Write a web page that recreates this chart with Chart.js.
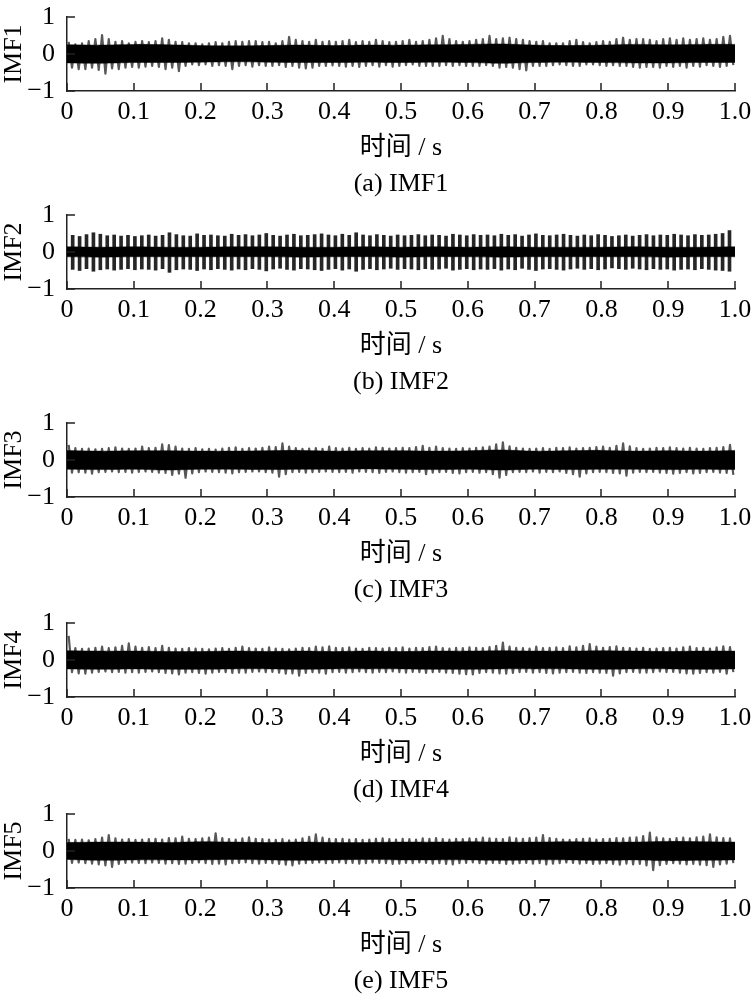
<!DOCTYPE html>
<html><head><meta charset="utf-8">
<script src="https://cdn.jsdelivr.net/npm/chart.js@4.4.1/dist/chart.umd.min.js"></script>
<style>
html,body{margin:0;padding:0;background:#fff}
#fig{position:relative;width:752px;height:1000px;overflow:hidden;background:#fff}
#fig canvas{position:absolute;left:0}
.cap{position:absolute;left:67px;width:668px;height:30px;text-align:center;font:26px/30px "Liberation Serif","Noto Sans CJK SC",serif;color:#000;white-space:nowrap}
</style></head><body><div id="fig"></div>
<script>
// ---------- data ----------
const TIME_TICKS = [0,0.1,0.2,0.3,0.4,0.5,0.6,0.7,0.8,0.9,1.0];
const TIME_TICK_LABELS = ['0','0.1','0.2','0.3','0.4','0.5','0.6','0.7','0.8','0.9','1.0'];
const AMP_TICKS = [-1,0,1];
const AMP_TICK_LABELS = ['\u22121','0','1'];
const X_TITLE = '时间 / s';
const PANEL_NAMES = ['IMF1','IMF2','IMF3','IMF4','IMF5'];
const CAPTIONS = ['(a) IMF1','(b) IMF2','(c) IMF3','(d) IMF4','(e) IMF5'];

// envelope of each 0.01 s bin (upper / lower peaks)
const IMF1_MAX = [0.33,0.26,0.29,0.35,0.40,0.51,0.40,0.33,0.35,0.29,
0.33,0.35,0.32,0.35,0.42,0.38,0.33,0.32,0.29,0.29,
0.26,0.29,0.32,0.29,0.33,0.35,0.33,0.35,0.35,0.32,
0.33,0.29,0.35,0.46,0.38,0.35,0.33,0.38,0.33,0.35,
0.33,0.35,0.38,0.32,0.35,0.33,0.38,0.35,0.32,0.33,
0.35,0.38,0.33,0.35,0.38,0.42,0.49,0.40,0.35,0.33,
0.35,0.38,0.40,0.49,0.40,0.42,0.44,0.40,0.38,0.35,
0.33,0.35,0.29,0.29,0.29,0.35,0.38,0.32,0.29,0.32,
0.35,0.33,0.40,0.44,0.38,0.40,0.40,0.38,0.35,0.40,
0.42,0.38,0.42,0.38,0.40,0.42,0.38,0.40,0.46,0.49];
const IMF1_MIN = [-0.37,-0.41,-0.41,-0.37,-0.43,-0.53,-0.39,-0.41,-0.37,-0.35,
-0.37,-0.34,-0.32,-0.35,-0.41,-0.37,-0.46,-0.32,-0.28,-0.30,
-0.28,-0.32,-0.30,-0.32,-0.41,-0.32,-0.30,-0.34,-0.30,-0.32,
-0.32,-0.30,-0.35,-0.32,-0.37,-0.39,-0.37,-0.32,-0.32,-0.31,
-0.32,-0.34,-0.32,-0.35,-0.32,-0.30,-0.34,-0.30,-0.34,-0.32,
-0.30,-0.28,-0.32,-0.32,-0.32,-0.32,-0.30,-0.32,-0.30,-0.32,
-0.32,-0.32,-0.30,-0.32,-0.37,-0.35,-0.37,-0.41,-0.44,-0.32,
-0.32,-0.32,-0.30,-0.28,-0.30,-0.32,-0.32,-0.28,-0.28,-0.30,
-0.32,-0.30,-0.32,-0.32,-0.35,-0.37,-0.35,-0.35,-0.37,-0.32,
-0.35,-0.32,-0.37,-0.32,-0.34,-0.30,-0.32,-0.35,-0.32,-0.30];

const IMF3_MAX = [0.41,0.32,0.30,0.31,0.29,0.30,0.32,0.34,0.31,0.30,
0.31,0.36,0.32,0.33,0.42,0.40,0.36,0.31,0.30,0.32,
0.29,0.30,0.28,0.31,0.33,0.34,0.30,0.32,0.31,0.33,
0.36,0.35,0.45,0.36,0.32,0.30,0.31,0.32,0.30,0.36,
0.32,0.31,0.33,0.30,0.32,0.31,0.34,0.33,0.31,0.32,
0.33,0.32,0.35,0.38,0.33,0.36,0.32,0.31,0.30,0.32,
0.31,0.33,0.34,0.36,0.42,0.48,0.37,0.33,0.31,0.30,
0.31,0.32,0.30,0.33,0.32,0.34,0.31,0.32,0.33,0.35,
0.36,0.33,0.38,0.45,0.37,0.32,0.30,0.31,0.33,0.32,
0.34,0.32,0.31,0.33,0.31,0.30,0.32,0.33,0.35,0.41];
const IMF3_MIN = [-0.34,-0.33,-0.34,-0.37,-0.33,-0.32,-0.31,-0.33,-0.32,-0.34,
-0.32,-0.31,-0.32,-0.34,-0.35,-0.40,-0.37,-0.48,-0.36,-0.33,
-0.31,-0.32,-0.33,-0.34,-0.36,-0.33,-0.32,-0.31,-0.31,-0.33,
-0.34,-0.45,-0.38,-0.33,-0.32,-0.34,-0.33,-0.32,-0.31,-0.32,
-0.33,-0.32,-0.34,-0.31,-0.32,-0.33,-0.35,-0.32,-0.31,-0.33,
-0.34,-0.33,-0.32,-0.38,-0.34,-0.33,-0.32,-0.35,-0.36,-0.33,
-0.32,-0.34,-0.33,-0.38,-0.48,-0.40,-0.33,-0.32,-0.33,-0.31,
-0.34,-0.32,-0.33,-0.31,-0.35,-0.38,-0.45,-0.36,-0.33,-0.32,
-0.33,-0.35,-0.36,-0.42,-0.34,-0.32,-0.33,-0.32,-0.34,-0.35,
-0.37,-0.35,-0.33,-0.36,-0.35,-0.33,-0.32,-0.34,-0.35,-0.40];

const IMF4_MAX = [0.65,0.32,0.30,0.31,0.33,0.36,0.32,0.34,0.38,0.45,
0.36,0.33,0.35,0.32,0.38,0.33,0.31,0.30,0.32,0.31,
0.30,0.29,0.31,0.32,0.30,0.33,0.36,0.32,0.31,0.30,
0.34,0.31,0.30,0.29,0.31,0.33,0.32,0.36,0.34,0.37,
0.33,0.32,0.34,0.31,0.30,0.33,0.32,0.31,0.33,0.32,
0.34,0.31,0.33,0.32,0.35,0.36,0.32,0.31,0.33,0.32,
0.34,0.33,0.32,0.35,0.38,0.47,0.36,0.33,0.32,0.31,
0.36,0.32,0.33,0.34,0.32,0.37,0.34,0.38,0.43,0.36,
0.33,0.35,0.37,0.33,0.32,0.31,0.33,0.30,0.31,0.32,
0.33,0.31,0.34,0.36,0.32,0.33,0.31,0.34,0.37,0.35];
const IMF4_MIN = [-0.33,-0.36,-0.37,-0.34,-0.32,-0.31,-0.33,-0.32,-0.34,-0.33,
-0.34,-0.32,-0.31,-0.33,-0.35,-0.36,-0.39,-0.34,-0.33,-0.35,
-0.37,-0.34,-0.32,-0.33,-0.35,-0.34,-0.34,-0.32,-0.31,-0.33,
-0.32,-0.34,-0.37,-0.36,-0.42,-0.35,-0.33,-0.34,-0.37,-0.33,
-0.32,-0.34,-0.33,-0.31,-0.33,-0.34,-0.32,-0.33,-0.31,-0.33,
-0.34,-0.32,-0.33,-0.35,-0.33,-0.32,-0.34,-0.35,-0.37,-0.38,
-0.39,-0.35,-0.33,-0.34,-0.36,-0.37,-0.35,-0.33,-0.32,-0.34,
-0.33,-0.35,-0.36,-0.34,-0.33,-0.32,-0.34,-0.35,-0.33,-0.34,
-0.35,-0.42,-0.36,-0.33,-0.32,-0.34,-0.34,-0.33,-0.31,-0.33,
-0.32,-0.34,-0.36,-0.37,-0.35,-0.33,-0.34,-0.32,-0.37,-0.33];

const IMF5_MAX = [0.33,0.30,0.31,0.29,0.32,0.36,0.43,0.34,0.31,0.32,
0.30,0.31,0.32,0.33,0.31,0.35,0.34,0.39,0.33,0.32,
0.34,0.36,0.48,0.35,0.32,0.31,0.34,0.37,0.33,0.32,
0.31,0.30,0.32,0.29,0.31,0.34,0.38,0.45,0.36,0.33,
0.32,0.33,0.31,0.32,0.30,0.31,0.33,0.34,0.32,0.31,
0.33,0.32,0.31,0.34,0.33,0.35,0.32,0.31,0.33,0.32,
0.34,0.33,0.36,0.34,0.33,0.32,0.37,0.34,0.33,0.35,
0.36,0.43,0.35,0.33,0.31,0.30,0.32,0.33,0.34,0.31,
0.32,0.33,0.35,0.34,0.36,0.37,0.40,0.50,0.37,0.34,
0.33,0.35,0.36,0.34,0.37,0.39,0.45,0.37,0.35,0.34];
const IMF5_MIN = [-0.32,-0.31,-0.33,-0.34,-0.36,-0.39,-0.43,-0.35,-0.32,-0.31,
-0.32,-0.33,-0.31,-0.32,-0.34,-0.33,-0.35,-0.34,-0.32,-0.31,
-0.33,-0.35,-0.34,-0.36,-0.33,-0.32,-0.31,-0.33,-0.34,-0.32,
-0.33,-0.35,-0.37,-0.39,-0.34,-0.33,-0.32,-0.31,-0.33,-0.32,
-0.31,-0.33,-0.32,-0.34,-0.33,-0.31,-0.32,-0.33,-0.35,-0.34,
-0.32,-0.33,-0.31,-0.32,-0.34,-0.33,-0.35,-0.36,-0.33,-0.32,
-0.31,-0.33,-0.34,-0.32,-0.33,-0.35,-0.34,-0.33,-0.32,-0.34,
-0.33,-0.36,-0.34,-0.33,-0.31,-0.32,-0.34,-0.33,-0.35,-0.34,
-0.33,-0.35,-0.37,-0.34,-0.36,-0.35,-0.39,-0.52,-0.38,-0.35,
-0.33,-0.34,-0.36,-0.35,-0.37,-0.38,-0.43,-0.36,-0.34,-0.33];

// IMF2: periodic impulses (first at 0.0085 s, period 0.01035 s), peak and trough of each
const IMF2_FIRST_PULSE = 0.0085;
const IMF2_PULSE_PERIOD = 0.01035;
const IMF2_PULSE_MAX = [0.45,0.42,0.47,0.52,0.48,0.44,0.46,0.43,0.45,0.42,
0.44,0.46,0.43,0.45,0.52,0.47,0.44,0.43,0.49,0.45,
0.46,0.44,0.43,0.48,0.45,0.47,0.44,0.46,0.50,0.45,
0.43,0.46,0.48,0.44,0.45,0.47,0.49,0.46,0.44,0.48,
0.45,0.52,0.46,0.44,0.47,0.45,0.43,0.46,0.44,0.45,
0.47,0.44,0.46,0.45,0.43,0.48,0.46,0.44,0.47,0.45,
0.46,0.44,0.48,0.45,0.47,0.43,0.46,0.49,0.45,0.44,
0.46,0.48,0.45,0.43,0.46,0.44,0.47,0.45,0.42,0.44,
0.46,0.43,0.45,0.47,0.44,0.46,0.45,0.48,0.46,0.44,
0.47,0.45,0.46,0.48,0.50,0.58];
const IMF2_PULSE_MIN = [-0.47,-0.50,-0.45,-0.52,-0.48,-0.46,-0.49,-0.47,-0.45,-0.48,
-0.46,-0.47,-0.49,-0.45,-0.55,-0.48,-0.46,-0.47,-0.50,-0.46,
-0.48,-0.45,-0.47,-0.49,-0.46,-0.48,-0.45,-0.47,-0.51,-0.46,
-0.44,-0.47,-0.49,-0.45,-0.46,-0.48,-0.50,-0.47,-0.45,-0.49,
-0.46,-0.52,-0.47,-0.45,-0.48,-0.46,-0.44,-0.47,-0.45,-0.46,
-0.48,-0.45,-0.47,-0.46,-0.44,-0.49,-0.47,-0.45,-0.48,-0.46,
-0.47,-0.45,-0.49,-0.46,-0.48,-0.44,-0.47,-0.50,-0.46,-0.45,
-0.47,-0.49,-0.46,-0.44,-0.47,-0.45,-0.48,-0.46,-0.43,-0.45,
-0.47,-0.44,-0.46,-0.48,-0.45,-0.47,-0.46,-0.49,-0.47,-0.46,
-0.48,-0.45,-0.47,-0.49,-0.50,-0.52];

// solid core of each trace, sampled every 0.05 s
const CORE_TIMES = [0,0.05,0.1,0.15,0.2,0.25,0.3,0.35,0.4,0.45,0.5,0.55,0.6,0.65,0.7,0.75,0.8,0.85,0.9,0.95,1.0];
const IMF1_CORE_MAX = [0.25,0.24,0.26,0.25,0.23,0.22,0.23,0.24,0.23,0.24,0.24,0.25,0.26,0.27,0.24,0.23,0.24,0.26,0.25,0.26,0.26];
const IMF1_CORE_MIN = [-0.24,-0.25,-0.23,-0.23,-0.22,-0.21,-0.22,-0.23,-0.23,-0.22,-0.23,-0.22,-0.23,-0.25,-0.23,-0.22,-0.23,-0.24,-0.24,-0.23,-0.23];
const IMF2_CORE_MAX = [0.14,0.13,0.14,0.13,0.13,0.14,0.14,0.13,0.13,0.14,0.13,0.14,0.13,0.14,0.13,0.13,0.13,0.14,0.13,0.13,0.14];
const IMF2_CORE_MIN = [-0.13,-0.14,-0.13,-0.13,-0.13,-0.13,-0.13,-0.14,-0.13,-0.13,-0.14,-0.13,-0.13,-0.14,-0.13,-0.13,-0.13,-0.13,-0.14,-0.13,-0.13];
const IMF3_CORE_MAX = [0.26,0.24,0.25,0.25,0.24,0.24,0.25,0.26,0.24,0.25,0.25,0.24,0.25,0.27,0.24,0.25,0.26,0.24,0.25,0.24,0.26];
const IMF3_CORE_MIN = [-0.25,-0.26,-0.25,-0.27,-0.25,-0.25,-0.26,-0.25,-0.25,-0.24,-0.25,-0.26,-0.25,-0.27,-0.25,-0.26,-0.25,-0.25,-0.26,-0.25,-0.26];
const IMF4_CORE_MAX = [0.25,0.24,0.24,0.23,0.23,0.24,0.23,0.24,0.23,0.24,0.23,0.24,0.24,0.25,0.24,0.24,0.25,0.24,0.23,0.24,0.24];
const IMF4_CORE_MIN = [-0.24,-0.25,-0.24,-0.25,-0.25,-0.24,-0.24,-0.25,-0.24,-0.24,-0.24,-0.25,-0.25,-0.24,-0.24,-0.24,-0.25,-0.24,-0.24,-0.25,-0.24];
const IMF5_CORE_MAX = [0.23,0.24,0.24,0.23,0.25,0.24,0.23,0.24,0.23,0.23,0.24,0.24,0.25,0.24,0.24,0.25,0.24,0.24,0.26,0.25,0.24];
const IMF5_CORE_MIN = [-0.23,-0.25,-0.24,-0.24,-0.24,-0.23,-0.24,-0.25,-0.24,-0.23,-0.24,-0.24,-0.24,-0.25,-0.24,-0.24,-0.25,-0.24,-0.26,-0.25,-0.24];

// ---------- rendering ----------
const FONT = '"Liberation Serif", "Noto Sans CJK SC", serif';
const PLOT_TOPS = [15, 213, 421, 621, 812];
const PANELS = [
  {env:[IMF1_MAX, IMF1_MIN], core:[IMF1_CORE_MAX, IMF1_CORE_MIN]},
  {pulses:[IMF2_PULSE_MAX, IMF2_PULSE_MIN], core:[IMF2_CORE_MAX, IMF2_CORE_MIN]},
  {env:[IMF3_MAX, IMF3_MIN], core:[IMF3_CORE_MAX, IMF3_CORE_MIN]},
  {env:[IMF4_MAX, IMF4_MIN], core:[IMF4_CORE_MAX, IMF4_CORE_MIN]},
  {env:[IMF5_MAX, IMF5_MIN], core:[IMF5_CORE_MAX, IMF5_CORE_MIN]}
];

const inwardTicks = {
  id: 'inwardTicks',
  afterDatasetsDraw(chart) {
    const {ctx, chartArea: a} = chart;
    const x = chart.scales.x, y = chart.scales.y;
    ctx.save();
    ctx.strokeStyle = '#222';
    ctx.lineWidth = 1.5;
    ctx.beginPath();
    TIME_TICKS.forEach(v => { const p = Math.round(x.getPixelForValue(v)); ctx.moveTo(p, a.bottom); ctx.lineTo(p, a.bottom - 8); });
    AMP_TICKS.forEach(v => { const p = Math.round(y.getPixelForValue(v)); ctx.moveTo(a.left, p); ctx.lineTo(a.left + 8, p); });
    ctx.stroke();
    ctx.restore();
  }
};

const fig = document.getElementById('fig');
PANELS.forEach((panel, i) => {
  const canvas = document.createElement('canvas');
  canvas.width = 752; canvas.height = 200;
  canvas.style.top = (PLOT_TOPS[i] - 15) + 'px';
  fig.appendChild(canvas);

  const cap = document.createElement('div');
  cap.className = 'cap';
  cap.textContent = CAPTIONS[i];
  cap.style.top = (PLOT_TOPS[i] + 153) + 'px';
  fig.appendChild(cap);

  const datasets = [];
  const [cMax, cMin] = panel.core;
  if (panel.env) {
    const [hi, lo] = panel.env;
    const n = hi.length;
    const pts = [];
    hi.forEach((h, k) => {
      pts.push({x: (k + 0.25) / n, y: h});
      pts.push({x: (k + 0.75) / n, y: lo[k]});
    });
    datasets.push({type:'line', data: pts, borderColor:'rgba(0,0,0,0.66)', borderWidth:2.2, borderJoinStyle:'round', pointRadius:0, fill:false, tension:0, order:0});
  }
  if (panel.pulses) {
    const [hi, lo] = panel.pulses;
    datasets.push({type:'bar', data: hi.map((h, k) => ({x: IMF2_FIRST_PULSE + k * IMF2_PULSE_PERIOD, y: [lo[k], h]})),
      backgroundColor:'rgba(0,0,0,0.85)', borderWidth:0, barThickness:3, order:0});
  }
  datasets.push({type:'line', data: CORE_TIMES.map((t, k) => ({x:t, y:cMax[k]})), fill:'+1', backgroundColor:'#000', borderColor:'#000', borderWidth:0.5, pointRadius:0, tension:0.3, order:1});
  datasets.push({type:'line', data: CORE_TIMES.map((t, k) => ({x:t, y:cMin[k]})), fill:false, borderColor:'#000', borderWidth:0.5, pointRadius:0, tension:0.3, order:2});

  new Chart(canvas, {
    type: 'line',
    data: {datasets},
    plugins: [inwardTicks],
    options: {
      responsive:false, animation:false, devicePixelRatio:1,
      layout:{padding:{top:15, left:0, right:17, bottom:0}},
      plugins:{legend:{display:false}, tooltip:{enabled:false}},
      scales:{
        x:{type:'linear', min:0, max:1, offset:false,
          grid:{display:false}, border:{display:true, color:'#222', width:1.5},
          afterBuildTicks: s => { s.ticks = TIME_TICKS.map(v => ({value:v})); },
          ticks:{autoSkip:false, maxRotation:0, padding:-2, color:'#000', font:{family:FONT, size:26, lineHeight:1.2},
            callback:(v, k) => TIME_TICK_LABELS[k]},
          title:{display:true, text:X_TITLE, color:'#000', font:{family:FONT, size:26, lineHeight:1.2}, padding:{top:0, bottom:36}},
          afterFit: s => { s.height = 109; }
        },
        y:{type:'linear', min:-1, max:1,
          grid:{display:false}, border:{display:true, color:'#222', width:1.5},
          afterBuildTicks: s => { s.ticks = AMP_TICKS.map(v => ({value:v})); },
          ticks:{padding:4, color:'#000', font:{family:FONT, size:26, lineHeight:1},
            callback:(v, k) => AMP_TICK_LABELS[k]},
          title:{display:true, text:PANEL_NAMES[i], color:'#000', font:{family:FONT, size:26, lineHeight:1}, padding:{top:1, bottom:0}},
          afterFit: s => { s.width = 67; }
        }
      }
    }
  });
});
</script>
</body></html>
